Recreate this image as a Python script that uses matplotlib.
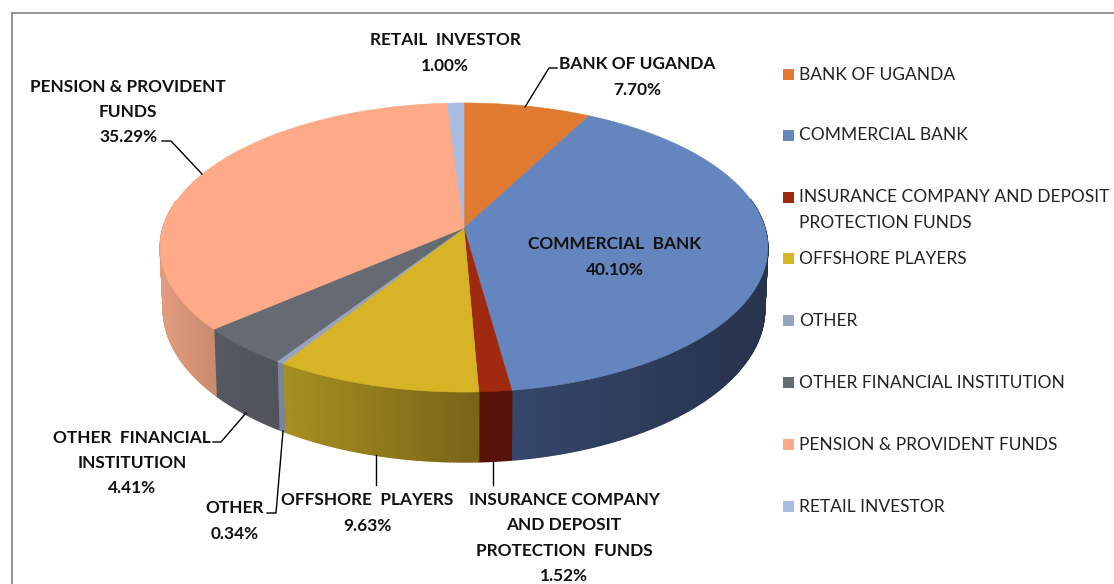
import numpy as np
import matplotlib

matplotlib.use("Agg")
import matplotlib.pyplot as plt
from matplotlib.collections import PolyCollection
from matplotlib.patches import Rectangle

categories = [
    "BANK OF UGANDA",
    "COMMERCIAL BANK",
    "INSURANCE COMPANY AND DEPOSIT\nPROTECTION FUNDS",
    "OFFSHORE PLAYERS",
    "OTHER",
    "OTHER FINANCIAL INSTITUTION",
    "PENSION & PROVIDENT FUNDS",
    "RETAIL INVESTOR",
]
shares = [7.70, 40.10, 1.52, 9.63, 0.34, 4.41, 35.29, 1.00]
data_labels = [
    "BANK OF UGANDA",
    "COMMERCIAL  BANK",
    "INSURANCE COMPANY\nAND DEPOSIT\nPROTECTION  FUNDS",
    "OFFSHORE  PLAYERS",
    "OTHER",
    "OTHER  FINANCIAL\nINSTITUTION",
    "PENSION & PROVIDENT\nFUNDS",
    "RETAIL  INVESTOR",
]

top_colors = ["#df7a30", "#6585bf", "#9f2a10", "#d7b426", "#98a3bd", "#666a72", "#fea988", "#a6bce3"]
wall_left = ["#b0601f", "#34466a", "#581308", "#a88f20", "#7a849c", "#555961", "#e29c80", "#8596b5"]
wall_right = ["#8a4d1c", "#28334c", "#581308", "#786318", "#7a849c", "#50535a", "#c98a6e", "#8596b5"]

# where each data label sits (centre x, centre y of the block), in pixels
label_pos = [(637, 77), (615, 257), (564, 538), (367, 513), (235, 521), (132, 463), (128, 112), (445, 53)]
legend_rows = [74, 135, 197, 258, 320, 382, 444, 506]

leaders = [
    [(557, 68), (549, 68), (525, 107)],
    [(493, 462), (493, 485)],
    [(376, 455), (376, 485)],
    [(283, 431), (276, 513), (267, 513)],
    [(246, 413), (221, 442), (213, 442)],
    [(162, 141), (171, 141), (202, 174)],
]

CX, CY = 464, 228
SCALE_X, SCALE_Y = 301, 141.9
PERSP = 0.135
DEPTH = 60.5


def rim(angle, drop=0.0, shrink=1.0):
    # circle seen in perspective, angle in degrees clockwise from the top
    u = np.sin(np.radians(angle))
    v = np.cos(np.radians(angle))
    w = 1 + PERSP * v
    x = CX + shrink * SCALE_X * u / w
    y = CY - SCALE_Y * v / w + drop / w
    return x, y


def hex_rgb(c):
    return np.array(matplotlib.colors.to_rgb(c))


plt.rcParams["font.family"] = ["Lato", "DejaVu Sans"]

fig = plt.figure(figsize=(11.14, 5.84), dpi=100)
ax = fig.add_axes([0, 0, 1, 1])
ax.set_xlim(0, 1114)
ax.set_ylim(584, 0)
ax.axis("off")

# chart frame runs off the right and bottom of the image
ax.plot([12, 12], [590, 13], color="#8c8c8c", lw=1.3)
ax.plot([12, 1120], [13, 13], color="#8c8c8c", lw=1.3)

edges = np.concatenate([[0], np.cumsum(shares)]) / np.sum(shares) * 360

# side walls first, the top faces cover the part at the back
for i in range(len(shares)):
    ang = np.linspace(edges[i], edges[i + 1], max(int(edges[i + 1] - edges[i]) * 2, 6))
    x_top, y_top = rim(ang)
    x_bot, y_bot = rim(ang, DEPTH, 0.99)
    front = np.cos(np.radians(ang)) < 0.2
    if front.sum() < 2:
        continue
    x_min, x_max = x_top[front].min(), x_top[front].max()
    quads, cols = [], []
    for j in range(len(ang) - 1):
        if not front[j] and not front[j + 1]:
            continue
        t = np.clip((0.5 * (x_top[j] + x_top[j + 1]) - x_min) / (x_max - x_min), 0, 1)
        cols.append(hex_rgb(wall_left[i]) * (1 - t) + hex_rgb(wall_right[i]) * t)
        quads.append([(x_top[j], y_top[j]), (x_top[j + 1], y_top[j + 1]),
                      (x_bot[j + 1], y_bot[j + 1]), (x_bot[j], y_bot[j])])
    ax.add_collection(PolyCollection(quads, facecolors=cols, edgecolors=cols, linewidths=1.0, zorder=2))

for i in range(len(shares)):
    ang = np.linspace(edges[i], edges[i + 1], max(int(edges[i + 1] - edges[i]) * 2, 6))
    x_top, y_top = rim(ang)
    xs = np.concatenate([[CX], x_top])
    ys = np.concatenate([[CY], y_top])
    ax.fill(xs, ys, facecolor=top_colors[i], edgecolor=top_colors[i], lw=0.4, zorder=3)

for line in leaders:
    ax.plot(*zip(*line), color="black", lw=1.0, zorder=4)

for name, share, (x, y) in zip(data_labels, shares, label_pos):
    ax.text(x, y, f"{name}\n{share:.2f}%", ha="center", va="center", fontsize=12.4,
            fontweight="bold", color="#111111", linespacing=1.72, zorder=5)

for name, color, y in zip(categories, top_colors, legend_rows):
    ax.add_patch(Rectangle((783, y - 5.5), 11, 11, facecolor=color, edgecolor="none"))
    ax.text(799, y - 7.5, name, ha="left", va="top", fontsize=12.55, color="#222222",
            linespacing=1.7)

fig.savefig("out.png", dpi=100)
